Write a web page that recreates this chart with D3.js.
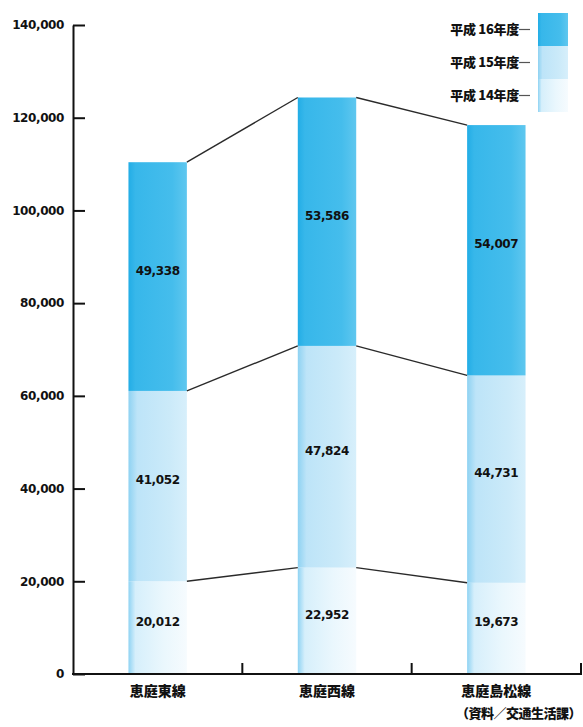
<!DOCTYPE html>
<html>
<head>
<meta charset="utf-8">
<script src="https://cdn.jsdelivr.net/npm/d3@7"></script>
<style>
  body { margin: 0; background: #fff; }
  text { font-family: "DejaVu Sans", "Noto Sans CJK JP", sans-serif; font-weight: bold; fill: #111; }
  .jp { font-family: "Noto Sans CJK JP", sans-serif; font-weight: 900; }
</style>
</head>
<body>
<script>
// data
const routes = ["恵庭東線", "恵庭西線", "恵庭島松線"];
const years = ["平成14年度", "平成15年度", "平成16年度"];
const h14 = [20012, 22952, 19673];
const h15 = [41052, 47824, 44731];
const h16 = [49338, 53586, 54007];
const yTicks = [0, 20000, 40000, 60000, 80000, 100000, 120000, 140000];
const source = "（資料／交通生活課）";

const width = 583, height = 727;

const svg = d3.select("body").append("svg")
    .attr("width", width)
    .attr("height", height);

// gradients for each year (left edge darker, fading right)
const defs = svg.append("defs");
const gradStops = [
    [["0%", "#8fd3f3"], ["12%", "#d6effb"], ["60%", "#eaf7fd"], ["100%", "#f6fbfe"]],
    [["0%", "#8ed2f2"], ["15%", "#bde4f8"], ["70%", "#cbeaf9"], ["100%", "#d7effb"]],
    [["0%", "#22ade6"], ["12%", "#37b7ea"], ["75%", "#45bdec"], ["100%", "#5fc7ef"]]
];
gradStops.forEach((stops, i) => {
    const g = defs.append("linearGradient")
        .attr("id", "g" + i)
        .attr("x1", "0%").attr("x2", "100%").attr("y1", "0%").attr("y2", "0%");
    stops.forEach(s => g.append("stop").attr("offset", s[0]).attr("stop-color", s[1]));
});

// scales
const y = d3.scaleLinear().domain([0, 140000]).range([674, 25]);
const xOuter = d3.scaleBand().domain(routes).range([73, 581]).padding(0);
const x = d3.scaleBand().domain(routes).range([73, 581])
    .paddingInner(0.655).paddingOuter(0.3275);

// stack the series
const table = routes.map((r, i) => ({ route: r, h14: h14[i], h15: h15[i], h16: h16[i] }));
const series = d3.stack().keys(["h14", "h15", "h16"])(table);

// bars
series.forEach((s, k) => {
    svg.append("g")
        .selectAll("rect")
        .data(s)
        .join("rect")
        .attr("x", d => x(d.data.route))
        .attr("width", x.bandwidth())
        .attr("y", d => y(d[1]))
        .attr("height", d => y(d[0]) - y(d[1]))
        .attr("fill", "url(#g" + k + ")");
});

// connector lines between bars at each stack level
series.forEach(s => {
    for (let i = 0; i < s.length - 1; i++) {
        svg.append("line")
            .attr("x1", x(routes[i]) + x.bandwidth())
            .attr("x2", x(routes[i + 1]))
            .attr("y1", y(s[i][1]))
            .attr("y2", y(s[i + 1][1]))
            .attr("stroke", "#2a2a2a")
            .attr("stroke-width", 1.4);
    }
});

// value labels
series.forEach(s => {
    svg.append("g")
        .selectAll("text")
        .data(s)
        .join("text")
        .attr("x", d => x(d.data.route) + x.bandwidth() / 2)
        .attr("y", d => y((d[0] + d[1]) / 2) - 2)
        .attr("text-anchor", "middle")
        .attr("font-size", 12)
        .attr("letter-spacing", -0.4)
        .text(d => d3.format(",")(d[1] - d[0]));
});

// y axis
const yAxis = svg.append("g")
    .attr("transform", "translate(73,0)")
    .call(d3.axisLeft(y).tickValues(yTicks).tickFormat(d3.format(","))
        .tickSizeInner(-12).tickSizeOuter(0).tickPadding(9));
yAxis.selectAll("path, line").attr("stroke", "#111").attr("stroke-width", 2);
yAxis.selectAll("text").attr("font-size", 12).attr("letter-spacing", -0.4)
    .style("font-family", "DejaVu Sans").style("font-weight", "bold").attr("fill", "#111");

// x axis: baseline with ticks at band edges pointing up
svg.append("line")
    .attr("x1", 72).attr("x2", 582)
    .attr("y1", y(0)).attr("y2", y(0))
    .attr("stroke", "#111").attr("stroke-width", 2);
svg.append("g")
    .selectAll("line")
    .data(routes)
    .join("line")
    .attr("x1", d => xOuter(d) + xOuter.bandwidth())
    .attr("x2", d => xOuter(d) + xOuter.bandwidth())
    .attr("y1", y(0))
    .attr("y2", y(0) - 11)
    .attr("stroke", "#111").attr("stroke-width", 2);
svg.append("g")
    .selectAll("text")
    .data(routes)
    .join("text")
    .attr("class", "jp")
    .attr("x", d => x(d) + x.bandwidth() / 2)
    .attr("y", y(0) + 22)
    .attr("text-anchor", "middle")
    .attr("font-size", 14)
    .text(d => d);

// source note
svg.append("text")
    .attr("class", "jp")
    .attr("x", 581)
    .attr("y", 718)
    .attr("text-anchor", "end")
    .attr("font-size", 13)
    .attr("letter-spacing", -0.5)
    .text(source);

// legend: stacked swatch on the right with labels and leader dashes
const legY = d3.scaleBand().domain(years.slice().reverse()).range([13, 112]);
const legend = svg.append("g");
legend.selectAll("rect")
    .data(years)
    .join("rect")
    .attr("x", 538)
    .attr("width", 30)
    .attr("y", d => legY(d))
    .attr("height", legY.bandwidth())
    .attr("fill", (d, i) => "url(#g" + i + ")");
legend.selectAll("line")
    .data(years)
    .join("line")
    .attr("x1", 519).attr("x2", 530)
    .attr("y1", d => legY(d) + legY.bandwidth() / 2)
    .attr("y2", d => legY(d) + legY.bandwidth() / 2)
    .attr("stroke", "#555").attr("stroke-width", 1.2);
legend.selectAll("text")
    .data(years)
    .join("text")
    .attr("class", "jp")
    .attr("x", 519)
    .attr("y", d => legY(d) + legY.bandwidth() / 2 + 4.5)
    .attr("text-anchor", "end")
    .attr("font-size", 13)
    .attr("letter-spacing", -0.3)
    .text(d => d.replace(/(\d+)/, " $1"));
</script>
</body>
</html>
